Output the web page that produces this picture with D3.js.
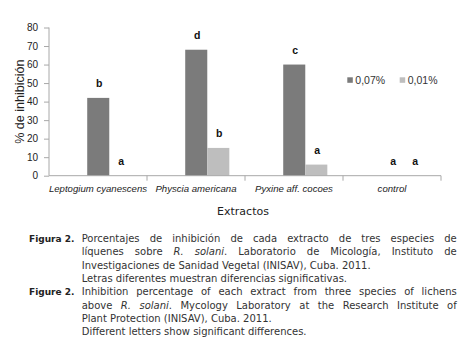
<!DOCTYPE html>
<html>
<head>
<meta charset="utf-8">
<script src="https://cdn.jsdelivr.net/npm/d3@7"></script>
<style>
  body { margin: 0; background: #fff; }
  svg { display: block; }
</style>
</head>
<body>
<div id="chart"></div>
<script>
// data
var categories = ["Leptogium cyanescens", "Physcia americana", "Pyxine aff. cocoes", "control"];
var seriesNames = ["0,07%", "0,01%"];
var conc007 = [42, 68, 60, 0];
var conc001 = [0, 15, 6, 0];
var letters007 = ["b", "d", "c", "a"];
var letters001 = ["a", "b", "a", "a"];
var yTicks = [0, 10, 20, 30, 40, 50, 60, 70, 80];

var captionLines = [
  { head: "Figura 2.", text: "Porcentajes de inhibición de cada extracto de tres especies de", justify: true },
  { text: "líquenes sobre _R. solani_. Laboratorio de Micología, Instituto de", justify: true },
  { text: "Investigaciones de Sanidad Vegetal (INISAV), Cuba. 2011." },
  { text: "Letras diferentes muestran diferencias significativas." },
  { head: "Figure 2.", text: "Inhibition percentage of each extract from three species of lichens", justify: true },
  { text: "above _R. solani_. Mycology Laboratory at the Research Institute of", justify: true },
  { text: "Plant Protection (INISAV), Cuba. 2011." },
  { text: "Different letters show significant differences." }
];

var colors = ["#7b7b7b", "#bebebe"];

var svgWidth = 466, svgHeight = 362;
var plot = { left: 49, right: 441, top: 27.5, bottom: 175.7 };

var svg = d3.select("#chart").append("svg")
  .attr("width", svgWidth)
  .attr("height", svgHeight);

var x = d3.scaleBand().domain(categories).range([plot.left, plot.right]);
var y = d3.scaleLinear().domain([0, 80]).range([plot.bottom, plot.top]);
var bw = x.bandwidth();
var barW = bw * 0.225;
var barStart = bw * 0.39;

// bars
var series = [conc007, conc001];
var letters = [letters007, letters001];
series.forEach(function(vals, s) {
  svg.append("g").selectAll("rect")
    .data(vals)
    .enter()
    .append("rect")
    .attr("x", function(d, i) { return x(categories[i]) + barStart + s * barW; })
    .attr("y", function(d) { return y(d); })
    .attr("width", barW)
    .attr("height", function(d) { return y(0) - y(d); })
    .attr("fill", colors[s]);

  // significance letters
  svg.append("g").selectAll("text")
    .data(vals)
    .enter()
    .append("text")
    .attr("x", function(d, i) { return x(categories[i]) + barStart + s * barW + barW / 2 + 1; })
    .attr("y", function(d) { return y(d) - 11; })
    .attr("text-anchor", "middle")
    .style("font-family", "Liberation Sans, Arial, sans-serif")
    .style("font-size", "10.5px")
    .style("font-weight", "bold")
    .style("fill", "#111")
    .text(function(d, i) { return letters[s][i]; });
});

// y axis
var leftAxis = d3.axisLeft(y).tickValues(yTicks).tickSize(5).tickPadding(6);
var gy = svg.append("g")
  .attr("transform", "translate(" + plot.left + ",0)")
  .call(leftAxis);
gy.select(".domain").attr("stroke", "#a8a8a8").attr("d", "M0," + plot.top + "V" + plot.bottom);
gy.selectAll(".tick line").attr("stroke", "#a8a8a8");
gy.selectAll(".tick text")
  .style("font-family", "Liberation Sans, Arial, sans-serif")
  .style("font-size", "10px")
  .style("fill", "#222");

// x axis: line with ticks at category borders
svg.append("line")
  .attr("x1", plot.left).attr("x2", plot.right)
  .attr("y1", y(0)).attr("y2", y(0))
  .attr("stroke", "#a8a8a8");
svg.append("g").selectAll("line")
  .data(categories)
  .enter()
  .append("line")
  .attr("x1", function(d) { return x(d) + bw; })
  .attr("x2", function(d) { return x(d) + bw; })
  .attr("y1", y(0)).attr("y2", y(0) + 5)
  .attr("stroke", "#a8a8a8");

svg.append("g").selectAll("text")
  .data(categories)
  .enter()
  .append("text")
  .attr("x", function(d) { return x(d) + bw / 2; })
  .attr("y", 192)
  .attr("text-anchor", "middle")
  .style("font-family", "Liberation Sans, Arial, sans-serif")
  .style("font-size", "9.6px")
  .style("font-style", "italic")
  .style("fill", "#222")
  .text(function(d) { return d; });

// axis titles
svg.append("text")
  .attr("transform", "translate(24,101.7) rotate(-90)")
  .attr("text-anchor", "middle")
  .style("font-family", "Liberation Sans, Arial, sans-serif")
  .style("font-size", "12.5px")
  .style("fill", "#222")
  .text("% de inhibición");

svg.append("text")
  .attr("x", 243)
  .attr("y", 215)
  .attr("text-anchor", "middle")
  .style("font-family", "DejaVu Sans, Verdana, sans-serif")
  .style("font-size", "11px")
  .style("fill", "#222")
  .text("Extractos");

// legend
var legend = svg.append("g").selectAll("g")
  .data(seriesNames)
  .enter()
  .append("g")
  .attr("transform", function(d, i) { return "translate(" + (347.3 + i * 52.4) + ",77.3)"; });
legend.append("rect")
  .attr("width", 5.5).attr("height", 5.5)
  .attr("fill", function(d, i) { return colors[i]; });
legend.append("text")
  .attr("x", 8).attr("y", 6.5)
  .style("font-family", "Liberation Sans, Arial, sans-serif")
  .style("font-size", "10.5px")
  .style("fill", "#333")
  .text(function(d) { return d; });

// caption
var capLeft = 81.7, capRight = 456.7, capTop = 242, capStep = 13.3;
var capFont = "DejaVu Sans, Verdana, sans-serif";
var cap = svg.append("g");

captionLines.forEach(function(line, li) {
  var by = capTop + li * capStep;
  if (line.head) {
    cap.append("text")
      .attr("x", 29).attr("y", by)
      .style("font-family", capFont)
      .style("font-size", "9px")
      .style("font-weight", "bold")
      .style("fill", "#222")
      .text(line.head);
  }
  var words = line.text.split(" ");
  if (line.justify) {
    var italic = false;
    var nodes = words.map(function(w) {
      var segs = [];
      var parts = w.split("_");
      parts.forEach(function(p, k) {
        if (k > 0) italic = !italic;
        if (p.length) segs.push({ t: p, it: italic });
      });
      var t = cap.append("text")
        .attr("y", by)
        .style("font-family", capFont)
        .style("font-size", "10px")
        .style("fill", "#333");
      segs.forEach(function(sg) {
        t.append("tspan").style("font-style", sg.it ? "italic" : "normal").text(sg.t);
      });
      return t;
    });
    var widths = nodes.map(function(n) { return n.node().getComputedTextLength(); });
    var total = d3.sum(widths);
    var gap = (capRight - capLeft - total) / (words.length - 1);
    var cx = capLeft;
    nodes.forEach(function(n, k) {
      n.attr("x", cx);
      cx += widths[k] + gap;
    });
  } else {
    cap.append("text")
      .attr("x", capLeft).attr("y", by)
      .style("font-family", capFont)
      .style("font-size", "10px")
      .style("fill", "#333")
      .text(line.text);
  }
});
</script>
</body>
</html>
